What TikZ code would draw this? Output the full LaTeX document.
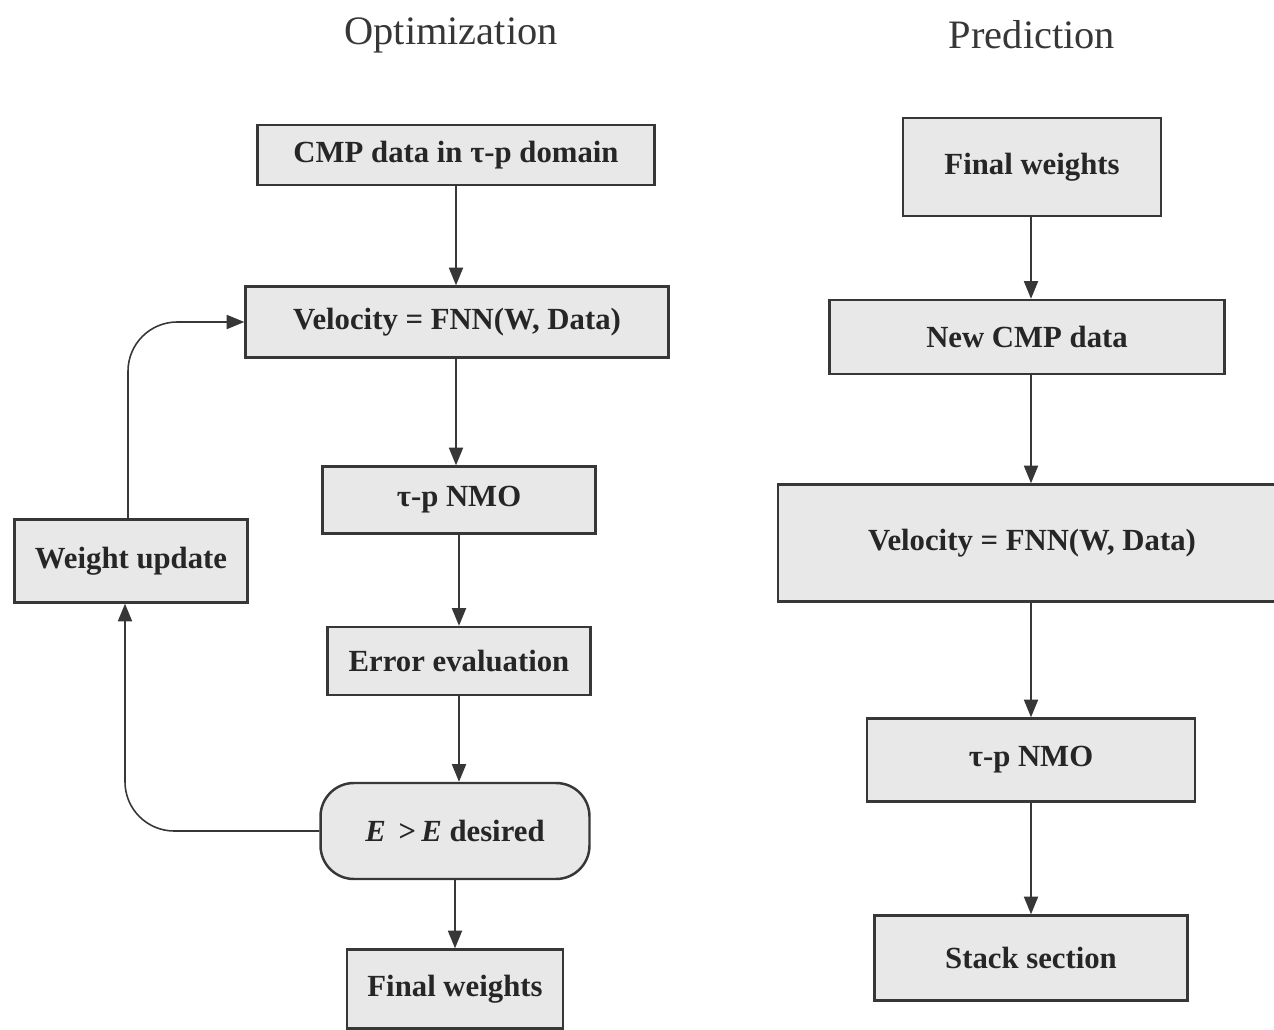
\documentclass[tikz,border=0pt]{standalone}
\usepackage{fontspec}
\setmainfont{Liberation Serif}
\usepackage{tikz}
\usetikzlibrary{arrows.meta}

\definecolor{boxgray}{RGB}{232,232,232}
\definecolor{inkgray}{RGB}{55,55,55}

\begin{document}
\begin{tikzpicture}[x=0.02cm, y=-0.02cm]
	\useasboundingbox (0,0) rectangle (1274,1030);
	% titles
	\node[font=\fontsize{23}{27}\selectfont, text=inkgray] (optT) at (451,35) {Optimization};
	\node[font=\fontsize{23}{27}\selectfont, text=inkgray] (predT) at (1032,35) {Prediction};
	\begin{scope}[every node/.style = {rectangle, draw=inkgray, line width=1.4pt, fill=boxgray,
			inner sep=0pt, text=black!85, font=\bfseries\fontsize{17.5}{21}\selectfont}]
		% optimization
		\node[minimum width=7.94cm, minimum height=1.2cm] (cmp) at (456,155) {CMP data in τ-p domain};
		\node[minimum width=8.46cm, minimum height=1.42cm] (velL) at (457,322) {Velocity = FNN(W, Data)};
		\node[minimum width=5.46cm, minimum height=1.34cm] (nmoL) at (459,500) {τ-p NMO};
		\node[minimum width=5.26cm, minimum height=1.36cm] (err) at (459,661) {Error evaluation};
		\node[minimum width=5.38cm, minimum height=1.92cm, rounded corners=19pt] (dec) at (455,831) {\textit{E} \,>\,\textit{E} desired};
		\node[minimum width=4.32cm, minimum height=1.58cm] (finL) at (455,989) {Final weights};
		\node[minimum width=4.66cm, minimum height=1.66cm] (wu) at (131,561) {Weight update};
		% prediction
		\node[minimum width=5.16cm, minimum height=1.96cm] (finR) at (1032,167) {Final weights};
		\node[minimum width=7.9cm, minimum height=1.48cm] (newcmp) at (1027,337) {New CMP data};
		\node[minimum width=10.16cm, minimum height=2.34cm] (velR) at (1032,543) {Velocity = FNN(W, Data)};
		\node[minimum width=6.56cm, minimum height=1.66cm] (nmoR) at (1031,760) {τ-p NMO};
		\node[minimum width=6.26cm, minimum height=1.7cm] (stack) at (1031,958) {Stack section};
	\end{scope}
	\begin{scope}[>={Triangle[length=10pt, width=8pt]},
			every edge/.style={draw=inkgray, line width=0.9pt}]
		\path [->] (cmp) edge (cmp |- velL.north);
		\path [->] (velL.south -| cmp) edge (cmp |- nmoL.north);
		\path [->] (nmoL.south -| err) edge (err.north);
		\path [->] (err) edge (err |- dec.north);
		\path [->] (dec) edge (dec |- finL.north);
		\path [->] (finR.south -| stack) edge (stack |- newcmp.north);
		\path [->] (newcmp.south -| stack) edge (stack |- velR.north);
		\path [->] (velR.south -| stack) edge (stack |- nmoR.north);
		\path [->] (nmoR) edge (stack);
		% feedback loop
		\draw [->, draw=inkgray, line width=0.9pt, rounded corners=28pt] (dec.west) -| ([xshift=-0.12cm]wu.south);
		\draw [->, draw=inkgray, line width=0.9pt, rounded corners=28pt] ([xshift=-0.06cm]wu.north) |- (velL.west);
	\end{scope}
\end{tikzpicture}
\end{document}
